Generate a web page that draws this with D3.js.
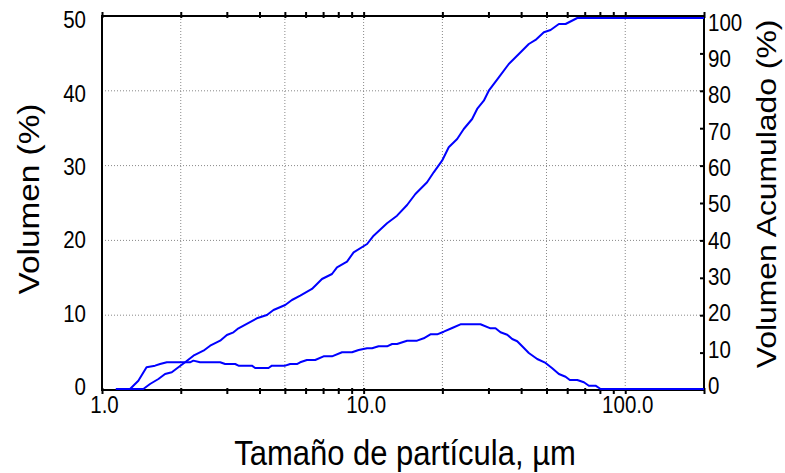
<!DOCTYPE html>
<html><head><meta charset="utf-8">
<script src="https://cdn.jsdelivr.net/npm/d3@7/dist/d3.min.js"></script>
<style>body{margin:0;background:#fff}svg{display:block}text{font-family:"Liberation Sans",Arial,sans-serif;fill:#000}</style>
</head><body>
<svg id="c" width="785" height="473"></svg>
<script>
// Frequency distribution (Volumen %, left axis)
const freqSizes = [1.13,1.28,1.377,1.48,1.595,1.667,1.769,2.17,2.235,2.37,2.83,2.955,3.228,3.324,3.74,3.85,4.33,4.46,5.015,5.24,5.56,5.72,6.07,6.53,7.03,7.57,8.27,9.03,9.57,10.31,10.77,11.41,12.29,12.85,13.42,14.66,16.01,16.97,18.0,19.1,20.24,21.8,23.45,27.97,30.54,31.92,33.36,35.39,36.98,38.64,40.38,42.8,46.08,49.6,52.6,55.77,59.15,61.4,65.57,69.5,72.6,77.0,80.5,200];
const freqValues = [0,0,1.11,2.9,3.12,3.34,3.57,3.57,3.79,3.57,3.57,3.34,3.34,3.12,3.12,2.81,2.81,3.12,3.12,3.34,3.34,3.57,3.88,3.88,4.37,4.37,4.91,4.91,5.21,5.44,5.44,5.71,5.71,6.02,6.02,6.46,6.46,6.78,7.31,7.31,7.66,8.16,8.65,8.65,8.11,8.11,7.58,7.26,6.68,6.38,5.71,4.81,4.01,3.48,2.77,2.0,1.64,1.2,1.2,0.9,0.44,0.44,0,0];
// Cumulative distribution (Volumen Acumulado %, right axis)
const cumSizes = [1.13,1.439,1.526,1.643,1.742,1.848,1.959,2.078,2.236,2.442,2.591,2.829,3.001,3.181,3.324,3.908,4.269,4.524,5.015,5.321,5.724,6.346,6.932,7.57,7.911,8.641,9.157,10.31,10.92,12.29,13.42,14.66,15.77,17.48,18.53,19.95,21.15,22.78,24.14,25.99,27.16,28.8,30.09,32.86,35.88,39.2,42.8,45.41,48.86,51.83,55.77,59.15,65.57,200];
const cumValues = [0,0,1.34,2.67,4.01,4.47,5.8,7.14,8.9,10.24,11.58,12.91,14.44,15.16,16.23,18.9,19.79,21.12,22.46,23.8,24.95,26.74,29.41,30.75,32.54,34.04,36.55,38.77,40.99,44.3,46.34,49.2,52.14,55.27,57.94,61.04,64.63,66.84,69.52,72.19,74.87,77.09,79.76,83.34,86.9,89.57,92.25,93.32,95.37,95.99,97.59,97.59,99.2,99.2];

const xTickLabels = [1, 10, 100];
const xMinorTicks = [2,3,4,5,6,7,8,9,20,30,40,50,60,70,80,90,200];
const xGrid = [2,5,10,20,50,100];
const yLeftTicks = [0,10,20,30,40,50];
const yRightTicks = [0,10,20,30,40,50,60,70,80,90,100];
const yLeftGrid = [10,20,30,40];

const L=102, R=704, T=16, B=390;
const svg = d3.select("#c");
const x = d3.scaleLog().domain([1,200]).range([L,R]);
const yL = d3.scaleLinear().domain([0,50]).range([B,T]);
const yR = d3.scaleLinear().domain([0,100]).range([B,T]);
// label placement scales (labels in the reference sit on a slightly compressed spacing)
const yLlab = d3.scaleLinear().domain([0,50]).range([386,19.5]);
const yRlab = d3.scaleLinear().domain([0,100]).range([385,21.7]);
const S = 1.15; // vertical text stretch

// grid
const grid = svg.append("g").attr("stroke","#888").attr("stroke-width",1).attr("stroke-dasharray","1,2");
xGrid.forEach(v=>grid.append("line").attr("x1",x(v)).attr("x2",x(v)).attr("y1",T).attr("y2",B));
yLeftGrid.forEach(v=>grid.append("line").attr("x1",L).attr("x2",R).attr("y1",yL(v)).attr("y2",yL(v)));

// bottom axis
const allX = xTickLabels.concat(xMinorTicks);
const bx = svg.append("g").attr("transform",`translate(0,${B})`)
  .call(d3.axisBottom(x).tickValues(allX).tickSize(0).tickFormat(d=>xTickLabels.includes(d)?d3.format(".1f")(d):""));
bx.select(".domain").remove();
bx.selectAll(".tick text").attr("y",0).attr("dy",0).attr("font-size",20.5)
  .attr("transform",`translate(2,23) scale(1,${S})`);
bx.selectAll(".tick").append("line").attr("y1",-2).attr("y2",4).attr("stroke","#000").attr("stroke-width",2);
// top ticks
const tx = svg.append("g").attr("transform",`translate(0,${T})`)
  .call(d3.axisTop(x).tickValues(allX).tickSize(0).tickFormat(""));
tx.select(".domain").remove();
tx.selectAll(".tick").append("line").attr("y1",-4).attr("y2",2).attr("stroke","#000").attr("stroke-width",2);

// left axis
const ly = svg.append("g").attr("transform",`translate(${L},0)`)
  .call(d3.axisLeft(yL).tickValues(yLeftTicks).tickSize(0).tickFormat(d3.format("d")));
ly.select(".domain").remove();
ly.selectAll(".tick text").attr("x",0).attr("dy",0).attr("font-size",20.5).attr("text-anchor","end")
  .attr("transform",d=>`translate(-16,${yLlab(d)-yL(d)}) scale(1,${S}) translate(0,7.3)`);

// right axis
const ry = svg.append("g").attr("transform",`translate(${R},0)`)
  .call(d3.axisRight(yR).tickValues(yRightTicks).tickSize(0).tickFormat(d3.format("d")));
ry.select(".domain").remove();
ry.selectAll(".tick text").attr("x",0).attr("dy",0).attr("font-size",20.5).attr("text-anchor","start")
  .attr("transform",d=>`translate(4,${yRlab(d)-yR(d)}) scale(1,${S}) translate(0,7.3)`);
ry.selectAll(".tick").filter(d=>d>0 && d<100).append("line").attr("x1",-4).attr("x2",1).attr("stroke","#000").attr("stroke-width",2);

// frame
svg.append("rect").attr("x",L).attr("y",T).attr("width",R-L).attr("height",B-T)
  .attr("fill","none").attr("stroke","#000").attr("stroke-width",2);

// curves (drawn above the frame, lifted 1px as in the reference)
const curves = svg.append("g").attr("transform","translate(0,-1)");
const lineF = d3.line().x((d,i)=>x(freqSizes[i])).y(d=>yL(d));
const lineC = d3.line().x((d,i)=>x(cumSizes[i])).y(d=>yR(d));
curves.append("path").attr("d",lineF(freqValues)).attr("fill","none").attr("stroke","#0000ff").attr("stroke-width",2).attr("stroke-linejoin","round");
curves.append("path").attr("d",lineC(cumValues)).attr("fill","none").attr("stroke","#0000ff").attr("stroke-width",2).attr("stroke-linejoin","round");

// titles
svg.append("text").attr("text-anchor","middle").attr("font-size",31)
  .attr("transform",`translate(405,465) scale(1,${S})`).text("Tamaño de partícula, µm");
svg.append("text").attr("text-anchor","middle").attr("font-size",29)
  .attr("transform",`translate(39,199) scale(1,${S}) rotate(-90)`).text("Volumen (%)");
svg.append("text").attr("text-anchor","middle").attr("font-size",27.7)
  .attr("transform",`translate(776,194) scale(1,${S}) rotate(-90)`).text("Volumen Acumulado (%)");
</script>
</body></html>
